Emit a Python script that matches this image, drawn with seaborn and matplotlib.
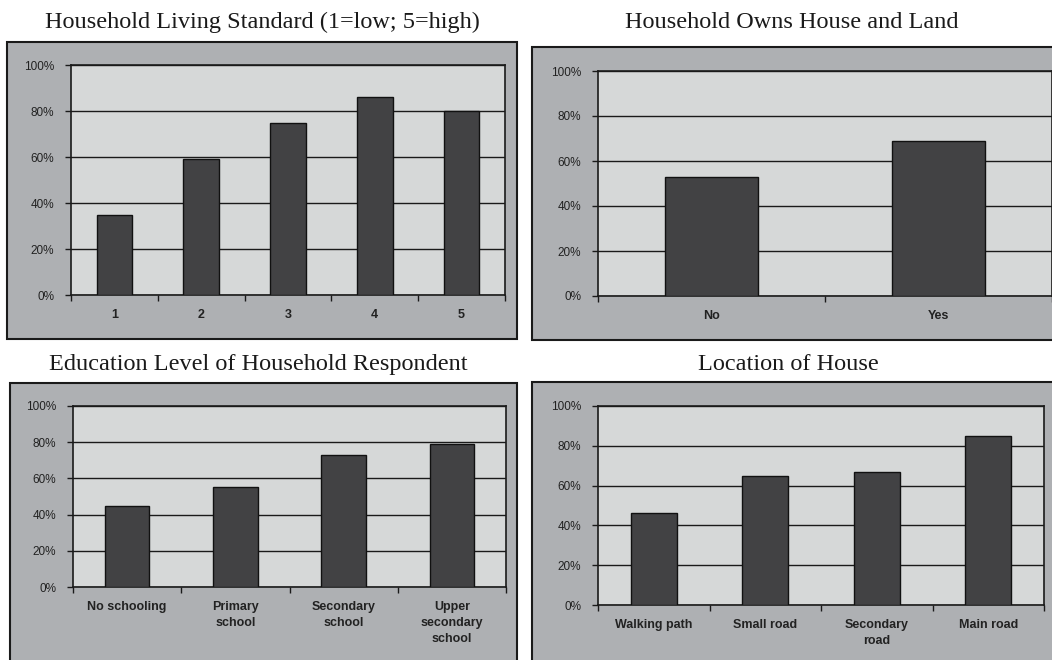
import matplotlib
matplotlib.use("Agg")
import matplotlib.pyplot as plt
import seaborn as sns
from matplotlib.patches import Rectangle
from matplotlib.ticker import PercentFormatter, FixedLocator

# data (percent)
living_cats = ["1", "2", "3", "4", "5"]
living_vals = [35, 59, 75, 86, 80]

owns_cats = ["No", "Yes"]
owns_vals = [53, 69]

edu_cats = ["No schooling", "Primary\nschool", "Secondary\nschool", "Upper\nsecondary\nschool"]
edu_vals = [45, 55, 73, 79]

loc_cats = ["Walking path", "Small road", "Secondary\nroad", "Main road"]
loc_vals = [46, 65, 67, 85]

W, H = 1052, 660
outer_gray = "#aeb0b3"
plot_gray = "#d6d8d8"
bar_color = "#424244"

sns.set_style("white")
plt.rcParams['font.family'] = ['Liberation Sans', 'DejaVu Sans']

fig = plt.figure(figsize=(W / 100, H / 100), dpi=100)
fig.patch.set_facecolor("white")


def px_rect(x0, y0, x1, y1):
    # pixel box (y from top) -> figure fraction [left, bottom, width, height]
    return [x0 / W, 1 - y1 / H, (x1 - x0) / W, (y1 - y0) / H]


def draw_panel(title, cats, vals, box, area, title_xy):
    l, b, w, h = px_rect(*box)
    fig.add_artist(Rectangle((l, b), w, h, transform=fig.transFigure,
                             facecolor=outer_gray, edgecolor="#1a1a1a",
                             linewidth=1.5, zorder=-2))
    fig.text(title_xy[0] / W, 1 - title_xy[1] / H, title, ha="center",
             va="baseline", fontsize=17.5, family=["Liberation Serif", "DejaVu Serif"],
             color="#1a1a1a")

    ax = fig.add_axes(px_rect(*area))
    ax.set_facecolor(plot_gray)
    sns.barplot(x=cats, y=vals, color=bar_color, width=0.41, edgecolor="#111111",
                linewidth=1.0, saturation=1, ax=ax, zorder=3)
    n = len(cats)
    ax.set_xlim(-0.5, n - 0.5)
    ax.set_ylim(0, 100)
    ax.set_yticks(range(0, 101, 20))
    ax.yaxis.set_major_formatter(PercentFormatter(decimals=0))
    ax.yaxis.grid(True, color="#1a1a1a", linewidth=1.0, zorder=0)
    ax.set_axisbelow(True)
    for s in ax.spines.values():
        s.set_visible(True)
        s.set_color("#1a1a1a")
        s.set_linewidth(1.2)

    ax.xaxis.set_minor_locator(FixedLocator([i - 0.5 for i in range(n + 1)]))
    ax.tick_params(axis="x", which="major", length=0, pad=10)
    ax.tick_params(axis="x", which="minor", length=4, width=1, color="#1a1a1a",
                   direction="out", bottom=True)
    ax.tick_params(axis="y", length=4, width=1, color="#1a1a1a", direction="out",
                   left=True, labelsize=8.5, labelcolor="#222222", pad=8)
    for lab in ax.get_xticklabels():
        lab.set_fontweight("bold")
        lab.set_fontsize(9)
        lab.set_color("#222222")
        lab.set_linespacing(1.45)
        lab.set_va("top")
    ax.set_xlabel("")
    ax.set_ylabel("")
    return ax


draw_panel("Household Living Standard (1=low; 5=high)", living_cats, living_vals,
           (7, 42, 517, 339), (71, 65, 505, 295), (262, 28))
draw_panel("Household Owns House and Land", owns_cats, owns_vals,
           (532, 47, 1062, 340), (598, 71, 1052, 296), (792, 28))
draw_panel("Education Level of Household Respondent", edu_cats, edu_vals,
           (10, 383, 517, 672), (73, 406, 506, 587), (258, 370))
draw_panel("Location of House", loc_cats, loc_vals,
           (532, 382, 1062, 672), (598, 406, 1044, 605), (788, 370))

fig.savefig("out.png", dpi=100)
